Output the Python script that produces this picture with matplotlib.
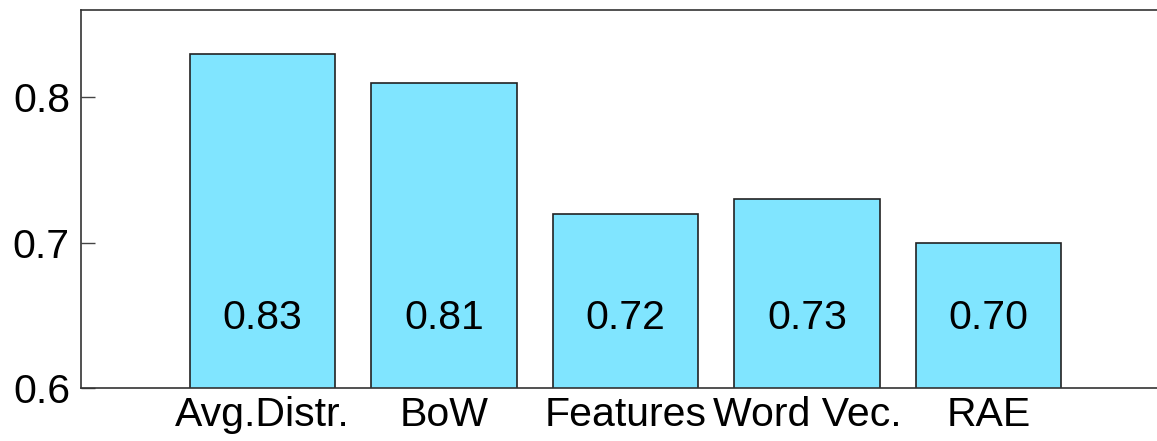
import matplotlib
matplotlib.use("Agg")
import matplotlib.pyplot as plt

categories = ["Avg.Distr.", "BoW", "Features", "Word Vec.", "RAE"]
values = [0.83, 0.81, 0.72, 0.73, 0.70]
value_labels = ["0.83", "0.81", "0.72", "0.73", "0.70"]
yticks = [0.6, 0.7, 0.8]
ytick_labels = ["0.6", "0.7", "0.8"]

plt.rcParams['font.family'] = ['Liberation Sans', 'DejaVu Sans']

fig = plt.figure(figsize=(11.57, 4.41), dpi=100)
ax = fig.add_axes([81/1157, 1-388/441, 1-81/1157, (388-10)/441])

x = list(range(1, len(categories) + 1))
ax.bar(x, values, width=0.8, color="#80E5FF", edgecolor="#222222", linewidth=1.2, zorder=2)
for xi, lab in zip(x, value_labels):
    ax.text(xi, 0.648, lab, ha="center", va="center", fontsize=29.5, color="black", zorder=3)

ax.set_xlim(0, (1157-81)/181.5)
ax.set_ylim(0.6, 0.86)
ax.set_yticks(yticks)
ax.set_yticklabels(ytick_labels, fontsize=29.5)
ax.set_xticks(x)
ax.set_xticklabels(categories, fontsize=29.5)
ax.tick_params(axis="y", direction="in", length=10, width=1, color="#444444", pad=8)
ax.tick_params(axis="x", length=0, pad=6)
ax.spines["right"].set_visible(False)
for s in ["left", "top", "bottom"]:
    ax.spines[s].set_color("#333333")
    ax.spines[s].set_linewidth(1.2)

fig.savefig("out.png", dpi=100)
